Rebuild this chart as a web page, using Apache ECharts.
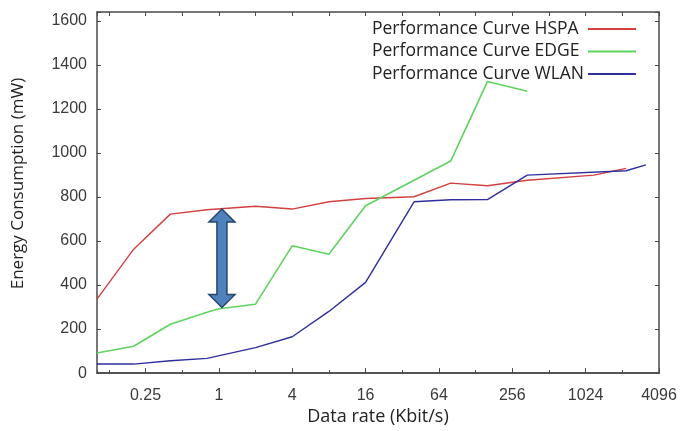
<!DOCTYPE html>
<html>
<head>
<meta charset="utf-8">
<script src="https://cdn.jsdelivr.net/npm/echarts@6/dist/echarts.min.js"></script>
<style>html,body{margin:0;padding:0;background:#fff;}#c{width:682px;height:431px;}</style>
</head>
<body>
<div id="c"></div>
<script>
// Data rate (Kbit/s) and energy consumption (mW)
const hspaRate  = [0.1, 0.2, 0.4, 0.8, 2, 4, 8, 16, 40, 80, 160, 340, 1200, 2200];
const hspaPower = [336, 563, 722, 742, 758, 745, 778, 793, 801, 863, 851, 876, 899, 930];
const edgeRate  = [0.1, 0.2, 0.4, 0.8, 1, 2, 4, 8, 16, 80, 160, 340];
const edgePower = [91, 122, 222, 276, 292, 313, 578, 540, 760, 963, 1324, 1280];
const wlanRate  = [0.1, 0.2, 0.4, 0.8, 2, 4, 8, 16, 40, 80, 160, 340, 2200, 3200];
const wlanPower = [41, 41, 56, 67, 116, 165, 280, 412, 778, 787, 788, 899, 919, 946];
const seriesNames = ['Performance Curve HSPA', 'Performance Curve EDGE', 'Performance Curve WLAN'];
const xTickLabels = ['0.25', '1', '4', '16', '64', '256', '1024', '4096'];
const yTickLabels = ['0', '200', '400', '600', '800', '1000', '1200', '1400', '1600'];
const xMinRate = 0.1, xMaxRate = 4096, yMax = 1640;
const arrowRate = 1.06, arrowTop = 745, arrowBottom = 298;

const pairs = (rs, ps) => rs.map((r, i) => [Math.log2(r), ps[i]]);
const xMin = Math.log2(xMinRate), xMax = Math.log2(xMaxRate);
const axisColor = '#4a4a4a';
const labelFont = {fontFamily: 'Liberation Sans', fontSize: 16, color: '#3a3a3a'};
const fmtX = v => {
  const r = Math.round(v);
  if (Math.abs(v - r) > 1e-6) return '';
  const s = String(Math.pow(2, r));
  return xTickLabels.indexOf(s) >= 0 ? s : '';
};
const fmtY = v => yTickLabels.indexOf(String(v)) >= 0 ? String(v) : '';

const chart = echarts.init(document.getElementById('c'));
const baseX = {type: 'value', min: xMin, max: xMax, splitLine: {show: false},
  axisLine: {show: true, onZero: false, lineStyle: {color: axisColor, width: 1.5}}};
const baseY = {type: 'value', min: 0, max: yMax, interval: 200, splitLine: {show: false},
  axisLine: {show: true, onZero: false, lineStyle: {color: axisColor, width: 1.5}}};

chart.setOption({
  animation: false,
  backgroundColor: '#fff',
  grid: {left: 97, right: 23, top: 12, bottom: 57},
  legend: {
    data: seriesNames, orient: 'vertical', right: 40, top: 15, align: 'right',
    itemWidth: 48, itemHeight: 14, itemGap: 4.5,
    itemStyle: {opacity: 0},
    formatter: n => '{a|' + n + '}',
    textStyle: {fontFamily: 'Open Sans', fontSize: 17.5, color: '#222',
      rich: {a: {width: 211, align: 'left', fontFamily: 'Open Sans', fontSize: 17.5, color: '#222'}}}
  },
  xAxis: [
    Object.assign({}, baseX, {position: 'bottom', splitNumber: 8,
      name: 'Data rate (Kbit/s)', nameLocation: 'middle', nameGap: 30,
      nameTextStyle: {fontFamily: 'Open Sans', fontSize: 18, color: '#222'},
      axisTick: {show: true, inside: true, length: 5, lineStyle: {color: axisColor}},
      axisLabel: Object.assign({formatter: fmtX, margin: 14, showMinLabel: false}, labelFont)}),
    Object.assign({}, baseX, {position: 'bottom', splitNumber: 15,
      axisTick: {show: true, inside: true, length: 3, lineStyle: {color: axisColor}},
      axisLabel: {show: false}}),
    Object.assign({}, baseX, {position: 'top', splitNumber: 15,
      axisTick: {show: true, inside: true, length: 4, lineStyle: {color: axisColor}},
      axisLabel: {show: false}})
  ],
  yAxis: [
    Object.assign({}, baseY, {position: 'left',
      name: 'Energy Consumption (mW)', nameLocation: 'middle', nameGap: 70,
      nameTextStyle: {fontFamily: 'Open Sans', fontSize: 17, color: '#222', padding: [0, 0, 0, 18]},
      axisTick: {show: true, inside: true, length: 4, lineStyle: {color: axisColor}},
      axisLabel: Object.assign({formatter: fmtY, margin: 10}, labelFont)}),
    Object.assign({}, baseY, {position: 'right',
      axisTick: {show: true, inside: true, length: 4, lineStyle: {color: axisColor}},
      axisLabel: {show: false}})
  ],
  series: [
    {name: seriesNames[0], type: 'line', symbol: 'none', data: pairs(hspaRate, hspaPower),
      lineStyle: {color: '#d43f3f', width: 1.4}, itemStyle: {color: '#d43f3f'}},
    {name: seriesNames[1], type: 'line', symbol: 'none', data: pairs(edgeRate, edgePower),
      lineStyle: {color: '#5fd35f', width: 1.6}, itemStyle: {color: '#5fd35f'}},
    {name: seriesNames[2], type: 'line', symbol: 'none', data: pairs(wlanRate, wlanPower),
      lineStyle: {color: '#2e2e9e', width: 1.4}, itemStyle: {color: '#2e2e9e'}}
  ]
});

// double-headed annotation arrow positioned through the axes
const pT = chart.convertToPixel({xAxisIndex: 0, yAxisIndex: 0}, [Math.log2(arrowRate), arrowTop]);
const pB = chart.convertToPixel({xAxisIndex: 0, yAxisIndex: 0}, [Math.log2(arrowRate), arrowBottom]);
const cx = pT[0], yT = pT[1], yB = pB[1], hw = 13, hl = 13, sw = 5;
chart.setOption({
  graphic: [{
    type: 'polygon', z: 100,
    shape: {points: [[cx, yT], [cx + hw, yT + hl], [cx + sw, yT + hl], [cx + sw, yB - hl], [cx + hw, yB - hl],
      [cx, yB], [cx - hw, yB - hl], [cx - sw, yB - hl], [cx - sw, yT + hl], [cx - hw, yT + hl]]},
    style: {fill: '#4f81bd', stroke: '#27456b', lineWidth: 1.5}
  }]
});
</script>
</body>
</html>
